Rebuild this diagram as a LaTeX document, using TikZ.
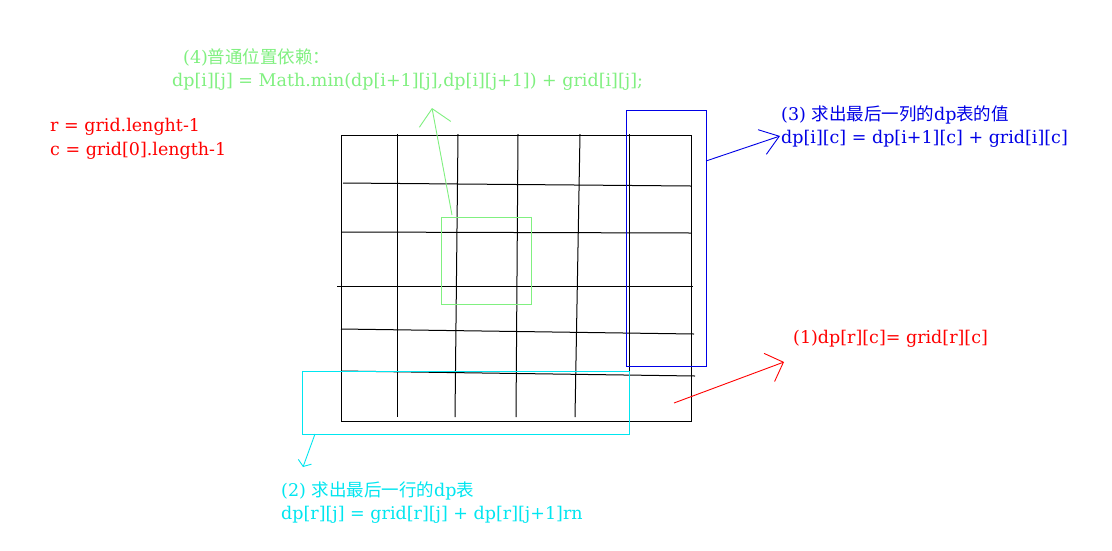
\documentclass[tikz,border=0pt]{standalone}
\usepackage{fontspec}
\setmainfont{DejaVu Serif}
\newfontfamily\cjk{Noto Sans CJK SC}
\usetikzlibrary{arrows.meta}
\definecolor{notegreen}{RGB}{128,240,128}
\definecolor{noteblue}{RGB}{0,0,230}
\definecolor{notecyan}{RGB}{0,230,240}
\definecolor{notered}{RGB}{255,0,0}
\begin{document}
\begin{tikzpicture}[x=1pt,y=-1pt,
  cell/.style={line width=1pt},
  frame/.style={line width=0.9pt},
  note/.style={anchor=west,inner sep=0pt,font=\fontsize{17.5}{20}\selectfont}]
  \useasboundingbox[fill=white] (0,0) rectangle (1112,550);
  % the table, drawn by hand
  \draw[cell] (341,135) rectangle (691,421);
  \foreach \xa/\xb in {397/397,458/455,518/516,580/575,629/629}
    \draw[cell] (\xa,134) -- (\xb,417);
  \foreach \xa/\ya/\xb/\yb in {343/183/691/186,341/232/691/233,337/286/693/286,341/329/694/334,341/371/695/376}
    \draw[cell] (\xa,\ya) -- (\xb,\yb);
  % (4) general cell
  \draw[frame,notegreen] (441,217) rectangle (531,304);
  \coordinate (gs) at (452,215);
  \coordinate (gt) at (432,108);
  \draw[frame,notegreen,-{Straight Barb[length=16pt,width=32pt]}] (gs) -- (gt);
  \node[note,notegreen] (g1) at (183,57) {(4){\cjk 普通位置依赖：}};
  \node[note,notegreen] (g2) at (172,82) {dp[i][j] = Math.min(dp[i+1][j],dp[i][j+1]) + grid[i][j];};
  % (3) last column
  \draw[frame,noteblue] (626,110) rectangle (706,366);
  \coordinate (bs) at (706,161);
  \coordinate (bt) at (780,136);
  \draw[frame,noteblue,-{Straight Barb[length=18pt,width=26pt]}] (bs) -- (bt);
  \node[note,noteblue] (b1) at (781,115) {(3) {\cjk 求出最后一列的}dp{\cjk 表的值}};
  \node[note,noteblue] (b2) at (781,139) {dp[i][c] = dp[i+1][c] + grid[i][c]};
  % (2) last row
  \draw[frame,notecyan] (302,371) rectangle (629,434);
  \coordinate (cs) at (315,434);
  \coordinate (ct) at (303,467);
  \draw[frame,notecyan,-{Straight Barb[length=5pt,width=14pt]}] (cs) -- (ct);
  \node[note,notecyan] (c1) at (281,491) {(2) {\cjk 求出最后一行的}dp{\cjk 表}};
  \node[note,notecyan] (c2) at (281,515) {dp[r][j] = grid[r][j] + dp[r][j+1]rn};
  % (1) bottom right cell
  \coordinate (rs) at (674,403);
  \coordinate (rt) at (784,362);
  \draw[frame,notered,-{Straight Barb[length=15pt,width=30pt]}] (rs) -- (rt);
  \node[note,notered] (r1) at (793,339) {(1)dp[r][c]= grid[r][c]};
  \node[note,notered] (r2) at (50,127) {r = grid.lenght-1};
  \node[note,notered] (r3) at (50,151) {c = grid[0].length-1};
\end{tikzpicture}
\end{document}
